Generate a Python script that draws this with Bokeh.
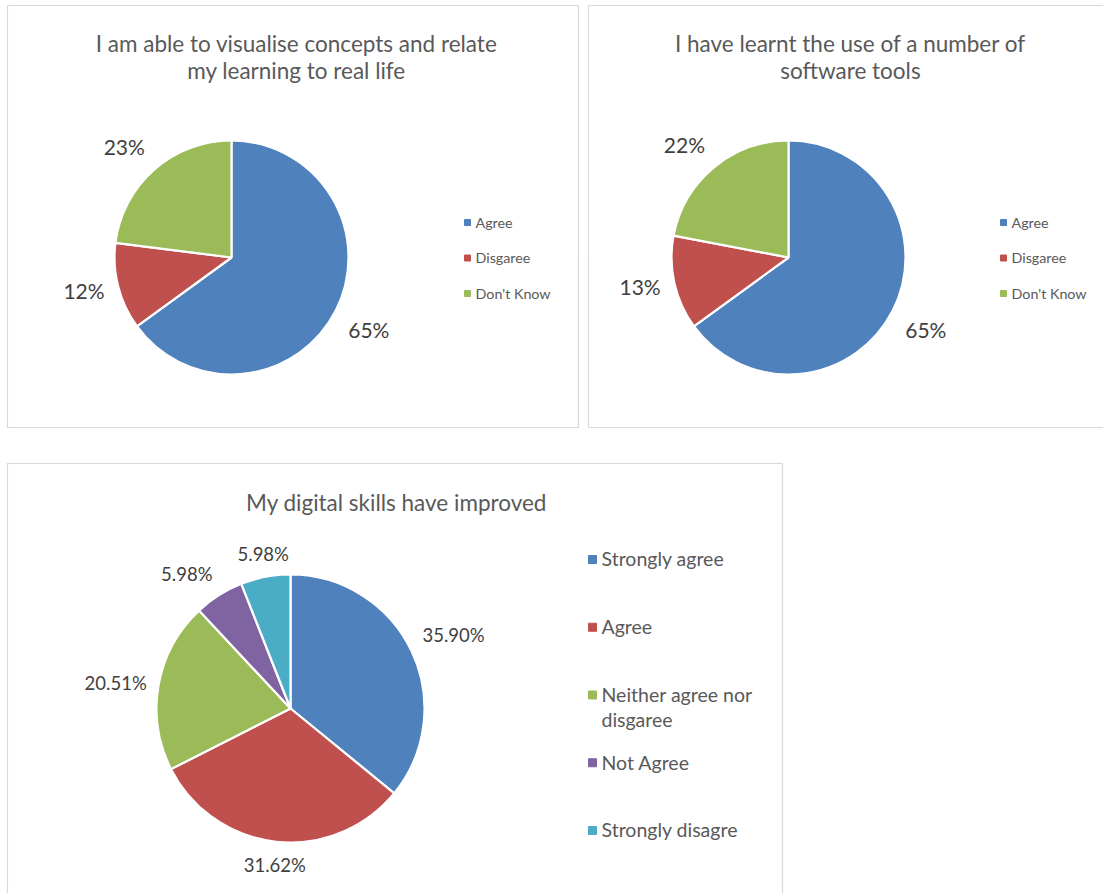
import math
import textwrap
from bokeh.plotting import figure
from bokeh.models import ColumnDataSource
from bokeh.core.properties import value
from bokeh.embed import file_html
from bokeh.resources import INLINE

# ---------------- data ----------------
title1 = "I am able to visualise concepts and relate\nmy learning to real life"
cats1 = ["Agree", "Disgaree", "Don't Know"]
vals1 = [65, 12, 23]

title2 = "I have learnt the use of a number of\nsoftware tools"
cats2 = ["Agree", "Disgaree", "Don't Know"]
vals2 = [65, 13, 22]

title3 = "My digital skills have improved"
cats3 = ["Strongly agree", "Agree", "Neither agree nor disgaree", "Not Agree", "Strongly disagre"]
vals3 = [35.90, 31.62, 20.51, 5.98, 5.98]
fmt3 = "{:.2f}%"

colors = ["#4F81BD", "#C0504D", "#9BBB59", "#8064A2", "#4BACC6"]

# ---------------- layout ----------------
W, H = 1103, 893
FONT = "Lato"
TITLE_C = "#595959"
LABEL_C = "#404040"

p = figure(width=W, height=H, x_range=(0, W), y_range=(0, H),
           output_backend="svg", toolbar_location=None, min_border=0)
p.axis.visible = False
p.grid.visible = False
p.outline_line_color = None
p.background_fill_color = "white"
p.border_fill_color = "white"


def Y(v):
    return H - v


# panel frames
frames = dict(left=[7, 588, 7], right=[578, 1110, 782],
              top=[Y(5), Y(5), Y(463)], bottom=[Y(427), Y(427), Y(900)])
p.quad(source=ColumnDataSource(frames), left="left", right="right", top="top", bottom="bottom",
       fill_color=None, line_color="#D9D9D9", line_width=1.2)


def pie(vals, cats, cx, cy, r, fmt, label_fs, title, tx, ty, title_fs,
        leg_x, leg_y0, leg_step, leg_fs, leg_size, wrap=None, gap=14):
    total = sum(vals)
    starts, ends, lx, ly, la, lb, txt = [], [], [], [], [], [], []
    cum = 0.0
    for v in vals:
        a0 = math.pi / 2 - 2 * math.pi * cum / total
        cum += v
        a1 = math.pi / 2 - 2 * math.pi * cum / total
        starts.append(a0)
        ends.append(a1)
        mid = (a0 + a1) / 2
        ux, uy = math.cos(mid), math.sin(mid)
        rr = r + gap
        lx.append(cx + rr * ux)
        ly.append(Y(cy) + rr * uy)
        la.append("left" if ux > 0.3 else ("right" if ux < -0.3 else "center"))
        lb.append("bottom" if uy > 0.3 else ("top" if uy < -0.3 else "middle"))
        txt.append(fmt.format(v))
    n = len(vals)
    src = ColumnDataSource(dict(x=[cx] * n, y=[Y(cy)] * n, start=starts, end=ends,
                                color=colors[:n]))
    p.wedge(x="x", y="y", radius=r, start_angle="start", end_angle="end",
            direction="clock", fill_color="color", line_color="white",
            line_width=2.2, source=src)
    lsrc = ColumnDataSource(dict(x=lx, y=ly, t=txt, a=la, b=lb))
    p.text(x="x", y="y", text="t", text_align="a", text_baseline="b", source=lsrc,
           text_font=value(FONT), text_font_size=f"{label_fs}px", text_color=LABEL_C)
    # title
    p.text(x=[tx], y=[Y(ty)], text=[title], text_align="center", text_baseline="top",
           text_font=value(FONT), text_font_size=f"{title_fs}px", text_color=TITLE_C,
           text_line_height=1.03)
    # legend
    ys = [Y(leg_y0 + leg_step * i) for i in range(n)]
    labels = [textwrap.fill(c, wrap) if wrap else c for c in cats]
    gsrc = ColumnDataSource(dict(x=[leg_x] * n, y=ys, t=labels, color=colors[:n],
                                 ty=[yy + leg_fs * 0.62 for yy in ys]))
    p.scatter(x="x", y="y", marker="square", size=leg_size, fill_color="color",
              line_color="color", source=gsrc)
    p.text(x=leg_x + leg_size / 2 + 5, y="ty", text="t", text_align="left",
           text_baseline="top", source=gsrc, text_font=value(FONT),
           text_font_size=f"{leg_fs}px", text_color=TITLE_C, text_line_height=1.09)


pie(vals1, cats1, 231, 257, 117, "{:.0f}%", 21, title1, 296, 29, 22.5,
    467, 222, 35.5, 14.3, 6)
pie(vals2, cats2, 788, 257, 117, "{:.0f}%", 21, title2, 850, 29, 22.5,
    1003, 222, 35.5, 14.3, 6)
pie(vals3, cats3, 290, 708, 134, fmt3, 18.5, title3, 396, 488, 22.5,
    592, 559, 67.75, 19.5, 8, wrap=18, gap=12)

open("out.html", "w").write(file_html(p, INLINE))
